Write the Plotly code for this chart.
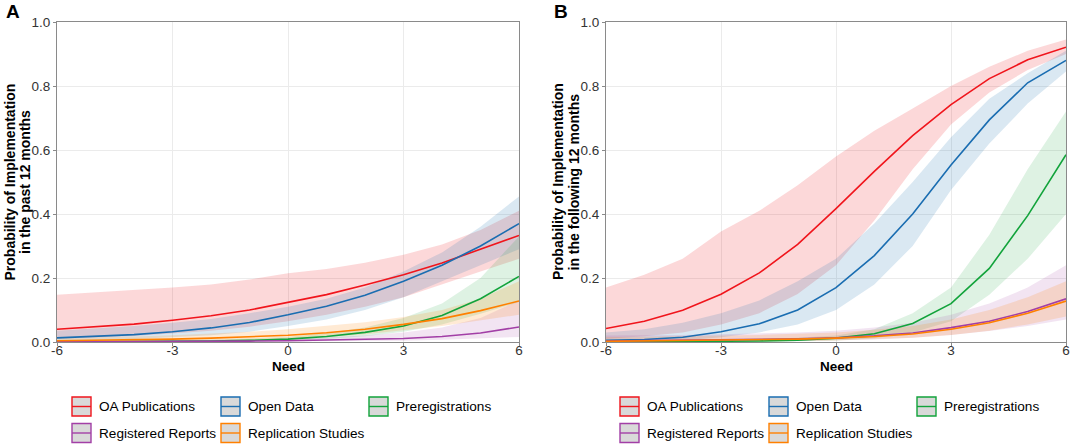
import plotly.graph_objects as go

# ---------------- data ----------------
need = [-6, -5, -4, -3, -2, -1, 0, 1, 2, 3, 4, 5, 6]
x_ticks = [-6, -3, 0, 3, 6]
x_tick_labels = ["-6", "-3", "0", "3", "6"]
y_ticks = [0, 0.2, 0.4, 0.6, 0.8, 1.0]
y_tick_labels = ["0.0", "0.2", "0.4", "0.6", "0.8", "1.0"]

series = ["OA Publications", "Open Data", "Preregistrations",
          "Registered Reports", "Replication Studies"]

# Panel A: past 12 months
a_oa_fit = [0.040, 0.047, 0.056, 0.068, 0.082, 0.100, 0.123, 0.148, 0.178, 0.210, 0.247, 0.290, 0.333]
a_oa_lo = [0.010, 0.014, 0.019, 0.026, 0.035, 0.048, 0.065, 0.085, 0.110, 0.140, 0.180, 0.220, 0.260]
a_oa_hi = [0.148, 0.155, 0.162, 0.170, 0.180, 0.195, 0.215, 0.228, 0.248, 0.273, 0.305, 0.350, 0.410]

a_od_fit = [0.013, 0.017, 0.023, 0.032, 0.044, 0.061, 0.085, 0.112, 0.146, 0.190, 0.240, 0.300, 0.370]
a_od_lo = [0.004, 0.006, 0.009, 0.014, 0.021, 0.032, 0.050, 0.070, 0.100, 0.140, 0.190, 0.240, 0.290]
a_od_hi = [0.035, 0.042, 0.050, 0.060, 0.072, 0.090, 0.110, 0.135, 0.170, 0.220, 0.280, 0.360, 0.455]

a_pr_fit = [0.0005, 0.0008, 0.0012, 0.002, 0.003, 0.005, 0.009, 0.017, 0.030, 0.050, 0.083, 0.135, 0.205]
a_pr_lo = [0.0, 0.0, 0.0, 0.001, 0.001, 0.002, 0.004, 0.009, 0.018, 0.032, 0.055, 0.088, 0.125]
a_pr_hi = [0.003, 0.004, 0.005, 0.006, 0.008, 0.011, 0.016, 0.028, 0.045, 0.075, 0.120, 0.200, 0.330]

a_rr_fit = [0.0005, 0.0007, 0.001, 0.0014, 0.002, 0.0028, 0.004, 0.006, 0.008, 0.011, 0.017, 0.028, 0.047]
a_rr_lo = [0.0, 0.0, 0.0, 0.0003, 0.0005, 0.0008, 0.0012, 0.002, 0.003, 0.004, 0.007, 0.011, 0.016]
a_rr_hi = [0.003, 0.003, 0.004, 0.005, 0.006, 0.008, 0.011, 0.015, 0.020, 0.030, 0.045, 0.075, 0.130]

a_rs_fit = [0.004, 0.005, 0.007, 0.009, 0.012, 0.016, 0.021, 0.029, 0.040, 0.055, 0.073, 0.098, 0.128]
a_rs_lo = [0.001, 0.0015, 0.002, 0.003, 0.005, 0.007, 0.010, 0.016, 0.024, 0.037, 0.050, 0.067, 0.085]
a_rs_hi = [0.012, 0.014, 0.017, 0.021, 0.026, 0.032, 0.040, 0.050, 0.062, 0.078, 0.100, 0.135, 0.190]

# Panel B: following 12 months
b_oa_fit = [0.042, 0.065, 0.099, 0.149, 0.216, 0.305, 0.417, 0.533, 0.645, 0.742, 0.823, 0.882, 0.921]
b_oa_lo = [0.010, 0.018, 0.030, 0.055, 0.090, 0.150, 0.240, 0.380, 0.540, 0.680, 0.780, 0.850, 0.900]
b_oa_hi = [0.170, 0.210, 0.260, 0.345, 0.410, 0.490, 0.580, 0.660, 0.730, 0.800, 0.860, 0.910, 0.945]

b_od_fit = [0.005, 0.008, 0.015, 0.032, 0.057, 0.100, 0.170, 0.270, 0.400, 0.553, 0.694, 0.810, 0.880]
b_od_lo = [0.001, 0.002, 0.005, 0.015, 0.030, 0.055, 0.100, 0.180, 0.300, 0.475, 0.620, 0.745, 0.845]
b_od_hi = [0.030, 0.040, 0.060, 0.090, 0.130, 0.190, 0.260, 0.370, 0.500, 0.640, 0.760, 0.840, 0.910]

b_pr_fit = [0.0005, 0.0008, 0.0012, 0.002, 0.003, 0.006, 0.012, 0.026, 0.058, 0.120, 0.230, 0.395, 0.585]
b_pr_lo = [0.0, 0.0, 0.0, 0.0005, 0.001, 0.002, 0.005, 0.012, 0.030, 0.065, 0.148, 0.260, 0.400]
b_pr_hi = [0.003, 0.004, 0.005, 0.007, 0.009, 0.013, 0.020, 0.040, 0.090, 0.170, 0.335, 0.540, 0.720]

b_rr_fit = [0.003, 0.004, 0.005, 0.006, 0.008, 0.010, 0.013, 0.019, 0.028, 0.045, 0.065, 0.095, 0.135]
b_rr_lo = [0.0, 0.0, 0.001, 0.001, 0.002, 0.003, 0.005, 0.008, 0.013, 0.022, 0.034, 0.050, 0.070]
b_rr_hi = [0.020, 0.020, 0.022, 0.024, 0.026, 0.030, 0.035, 0.045, 0.060, 0.085, 0.120, 0.170, 0.240]

b_rs_fit = [0.002, 0.003, 0.004, 0.005, 0.007, 0.009, 0.012, 0.017, 0.025, 0.040, 0.060, 0.090, 0.128]
b_rs_lo = [0.0003, 0.0005, 0.0008, 0.001, 0.002, 0.003, 0.005, 0.008, 0.013, 0.022, 0.035, 0.055, 0.080]
b_rs_hi = [0.015, 0.016, 0.018, 0.020, 0.022, 0.025, 0.030, 0.038, 0.050, 0.070, 0.100, 0.140, 0.190]

panel_a = [(a_oa_fit, a_oa_lo, a_oa_hi), (a_od_fit, a_od_lo, a_od_hi), (a_pr_fit, a_pr_lo, a_pr_hi),
           (a_rr_fit, a_rr_lo, a_rr_hi), (a_rs_fit, a_rs_lo, a_rs_hi)]
panel_b = [(b_oa_fit, b_oa_lo, b_oa_hi), (b_od_fit, b_od_lo, b_od_hi), (b_pr_fit, b_pr_lo, b_pr_hi),
           (b_rr_fit, b_rr_lo, b_rr_hi), (b_rs_fit, b_rs_lo, b_rs_hi)]

# ---------------- style ----------------
colors = ["#F0151C", "#1A6DB1", "#12A33B", "#A23FA6", "#FF8000"]
fills = ["rgba(240,21,28,0.17)", "rgba(26,109,177,0.16)", "rgba(18,163,59,0.14)",
         "rgba(162,63,166,0.14)", "rgba(255,128,0,0.17)"]
FONT = "Liberation Sans, Arial, sans-serif"
W, H = 1072, 445


def px(xp):
    return xp / W


def py(yp):
    return 1 - yp / H


fig = go.Figure()

for panel, (xa, ya) in [(panel_a, ("x", "y")), (panel_b, ("x2", "y2"))]:
    for i, (fit, lo, hi) in enumerate(panel):
        fig.add_trace(go.Scatter(
            x=need + need[::-1], y=hi + lo[::-1], fill="toself",
            fillcolor=fills[i], line=dict(width=0), mode="lines",
            xaxis=xa, yaxis=ya, showlegend=False, hoverinfo="skip"))
    for i, (fit, lo, hi) in enumerate(panel):
        fig.add_trace(go.Scatter(
            x=need, y=fit, mode="lines", line=dict(color=colors[i], width=1.6),
            xaxis=xa, yaxis=ya, showlegend=False, name=series[i]))

y_dom = [py(342), py(22)]
axis_common = dict(showline=True, linecolor="#8a8a8a", linewidth=1, mirror=True,
                   showgrid=True, gridcolor="#EBEBEB", gridwidth=1, zeroline=False,
                   ticks="outside", ticklen=3, tickcolor="#8a8a8a",
                   tickfont=dict(family=FONT, size=13.5, color="#333333"), automargin=False)

fig.update_layout(
    width=W, height=H, margin=dict(l=0, r=0, t=0, b=0),
    paper_bgcolor="white", plot_bgcolor="white", showlegend=False,
    xaxis=dict(domain=[px(57), px(519)], range=[-6, 6], tickvals=x_ticks, ticktext=x_tick_labels,
               anchor="y", ticklabelstandoff=-7, **axis_common),
    yaxis=dict(domain=y_dom, range=[0, 1], tickvals=y_ticks, ticktext=y_tick_labels,
               anchor="x", **axis_common),
    xaxis2=dict(domain=[px(606), px(1066)], range=[-6, 6], tickvals=x_ticks, ticktext=x_tick_labels,
                anchor="y2", ticklabelstandoff=-7, **axis_common),
    yaxis2=dict(domain=y_dom, range=[0, 1], tickvals=y_ticks, ticktext=y_tick_labels,
                anchor="x2", **axis_common),
)

annotations = []
shapes = []
title_lines = [["Probability of Implementation", "in the past 12 months"],
               ["Probability of Implementation", "in the following 12 months"]]
for k, (off, letter, tx) in enumerate([(0, "A", (9.5, 25)), (548, "B", (558, 573.5))]):
    plot_left = 57 if k == 0 else 606
    plot_right = 519 if k == 0 else 1066
    annotations.append(dict(x=px(off + 13), y=py(11), xref="paper", yref="paper", text="<b>" + letter + "</b>",
                            showarrow=False, font=dict(family=FONT, size=19, color="black"),
                            xanchor="center", yanchor="middle"))
    for j, line in enumerate(title_lines[k]):
        annotations.append(dict(x=px(tx[j]), y=py(182), xref="paper", yref="paper", text="<b>" + line + "</b>",
                                showarrow=False, textangle=-90, font=dict(family=FONT, size=14, color="black"),
                                xanchor="center", yanchor="middle"))
    annotations.append(dict(x=px((plot_left + plot_right) / 2), y=py(366), xref="paper", yref="paper",
                            text="<b>Need</b>", showarrow=False, font=dict(family=FONT, size=13.5, color="black"),
                            xanchor="center", yanchor="middle"))
    # legend
    col_box = [72, 221, 369]
    rows = [406.5, 433]
    pos = [(0, 0), (0, 1), (0, 2), (1, 0), (1, 1)]
    for i, name in enumerate(series):
        r, c = pos[i]
        bx = col_box[c] + off
        cy = rows[r]
        shapes.append(dict(type="rect", xref="paper", yref="paper",
                           x0=px(bx), x1=px(bx + 19), y0=py(cy + 9.5), y1=py(cy - 9.5),
                           fillcolor="#D9D9D9", line=dict(color=colors[i], width=1.4)))
        shapes.append(dict(type="line", xref="paper", yref="paper",
                           x0=px(bx), x1=px(bx + 19), y0=py(cy), y1=py(cy),
                           line=dict(color=colors[i], width=1.4)))
        annotations.append(dict(x=px(bx + 25), y=py(cy), xref="paper", yref="paper", text=name,
                                showarrow=False, font=dict(family=FONT, size=13.6, color="black"),
                                xanchor="left", yanchor="middle"))

fig.update_layout(annotations=annotations, shapes=shapes)
fig.write_html("out.html", config={"displayModeBar": False},
               post_script="document.body.style.margin='0';document.body.style.padding='0';"
                           "document.documentElement.style.overflow='hidden';")
